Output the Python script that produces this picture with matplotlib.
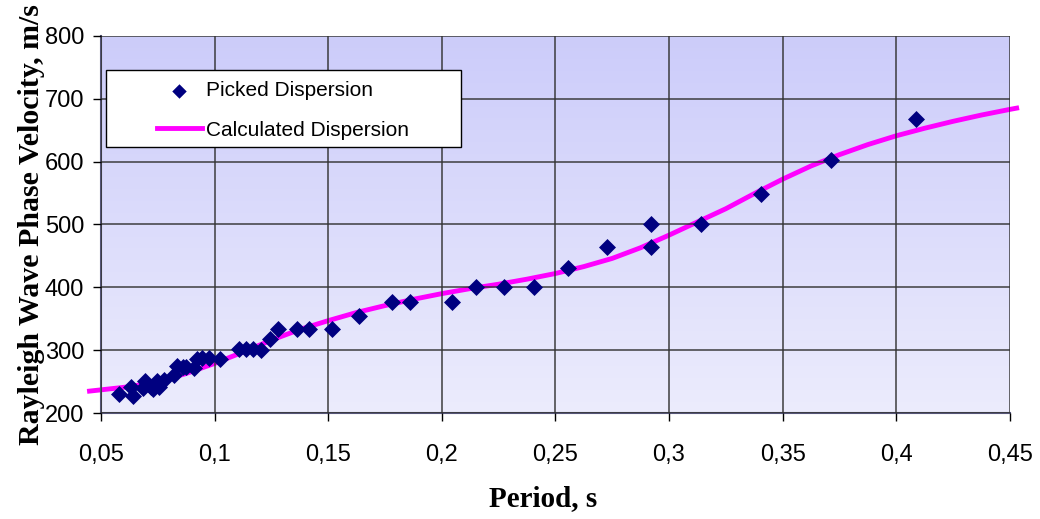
import numpy as np
import matplotlib
matplotlib.use("Agg")
from matplotlib import pyplot as plt
from matplotlib.ticker import FuncFormatter
from matplotlib.patches import Rectangle

# Picked dispersion (period in s, phase velocity in m/s)
picked_T = [0.0579, 0.0633, 0.0643, 0.0684, 0.0696, 0.0720, 0.0730, 0.0747, 0.0757,
            0.0779, 0.0820, 0.0837, 0.0860, 0.0874, 0.0911, 0.0925, 0.0947, 0.0974,
            0.1025, 0.1108, 0.1137, 0.1170, 0.1206, 0.1243, 0.1280, 0.1365, 0.1414,
            0.1516, 0.1637, 0.1780, 0.1860, 0.2045, 0.2152, 0.2272, 0.2405, 0.2556,
            0.2727, 0.2920, 0.2920, 0.3143, 0.3405, 0.3713, 0.4086]
picked_v = [230, 242, 228, 240, 251, 242, 238, 251, 241,
            253, 260, 275, 274, 274, 271, 286, 287, 287,
            286, 302, 302, 302, 300, 318, 334, 334, 334,
            334, 354, 377, 377, 377, 400, 400, 400, 430,
            464, 500, 464, 500, 548, 603, 667]

# Calculated dispersion curve
calc_T = [0.045, 0.05, 0.0625, 0.075, 0.0875, 0.1, 0.1125, 0.125, 0.1375, 0.15,
          0.1625, 0.175, 0.1875, 0.2, 0.2125, 0.225, 0.2375, 0.25, 0.2625, 0.275,
          0.2875, 0.3, 0.3125, 0.325, 0.3375, 0.35, 0.3625, 0.375, 0.3875, 0.4,
          0.4125, 0.425, 0.4375, 0.45, 0.453]
calc_v = [235, 237, 242, 250, 263, 279, 297, 316, 333, 347,
          360, 371, 381, 390, 398, 405, 413, 422, 433, 446,
          463, 483, 504, 525, 549, 572, 593, 611, 627, 641,
          653, 664, 674, 683, 685]

fig = plt.figure(figsize=(10.4, 5.19), dpi=100)
ax = fig.add_axes([0.097, 0.204, 0.874, 0.727])

ax.set_xlim(0.05, 0.45)
ax.set_ylim(200, 800)

# gradient background
grad = np.linspace(0, 1, 256).reshape(-1, 1)
top = np.array([0.80, 0.80, 0.98])
bot = np.array([0.925, 0.925, 0.99])
img = bot + (top - bot) * grad
ax.imshow(img[:, None, :].repeat(2, axis=1), extent=[0.05, 0.45, 200, 800],
          origin="lower", aspect="auto", zorder=0)

ax.set_xticks(np.arange(0.05, 0.451, 0.05))
ax.set_yticks(np.arange(200, 801, 100))
ax.xaxis.set_major_formatter(FuncFormatter(lambda v, p: ("%g" % round(v, 2)).replace(".", ",")))
ax.grid(True, color="#333333", linewidth=1.3, alpha=0.8, zorder=1)
ax.set_axisbelow(False)

ax.plot(calc_T, calc_v, color="#FF00FF", linewidth=3.5, zorder=2,
        label="Calculated Dispersion", clip_on=False)
ax.scatter(picked_T, picked_v, marker="D", s=75, color="#000080", zorder=3,
           label="Picked Dispersion", linewidths=0)

for s in ["top", "right"]:
    ax.spines[s].set_visible(False)
for s in ["left", "bottom"]:
    ax.spines[s].set_color("#555577")
    ax.spines[s].set_linewidth(1.5)
ax.tick_params(direction="out", length=6, width=1, colors="black",
               labelsize=17, pad=6)
ax.tick_params(axis="x", pad=16)
for lab in ax.get_xticklabels() + ax.get_yticklabels():
    lab.set_family("Liberation Sans")

ax.set_xlabel("Period, s", family="Liberation Serif", fontweight="bold",
              fontsize=21)
ax.xaxis.set_label_coords(0.487, -0.19)
ax.set_ylabel("Rayleigh Wave Phase Velocity, m/s", family="Liberation Serif",
              fontweight="bold", fontsize=21.5, labelpad=0)

# legend box
ax.add_patch(Rectangle((0.0055, 0.7056), 0.3905, 0.2042, transform=ax.transAxes,
                       facecolor="white", edgecolor="black", linewidth=1,
                       zorder=4, clip_on=False))
handles, labels = ax.get_legend_handles_labels()
leg = ax.legend(handles[::-1], labels[::-1], loc="upper left",
                bbox_to_anchor=(0.0616, 0.879), frameon=False, borderpad=0,
                borderaxespad=0, labelspacing=0.97, handlelength=2.16,
                handletextpad=0.2, markerscale=0.85,
                prop={"family": "Liberation Sans", "size": 15})
leg.set_zorder(5)

fig.savefig("out.png", dpi=100)
